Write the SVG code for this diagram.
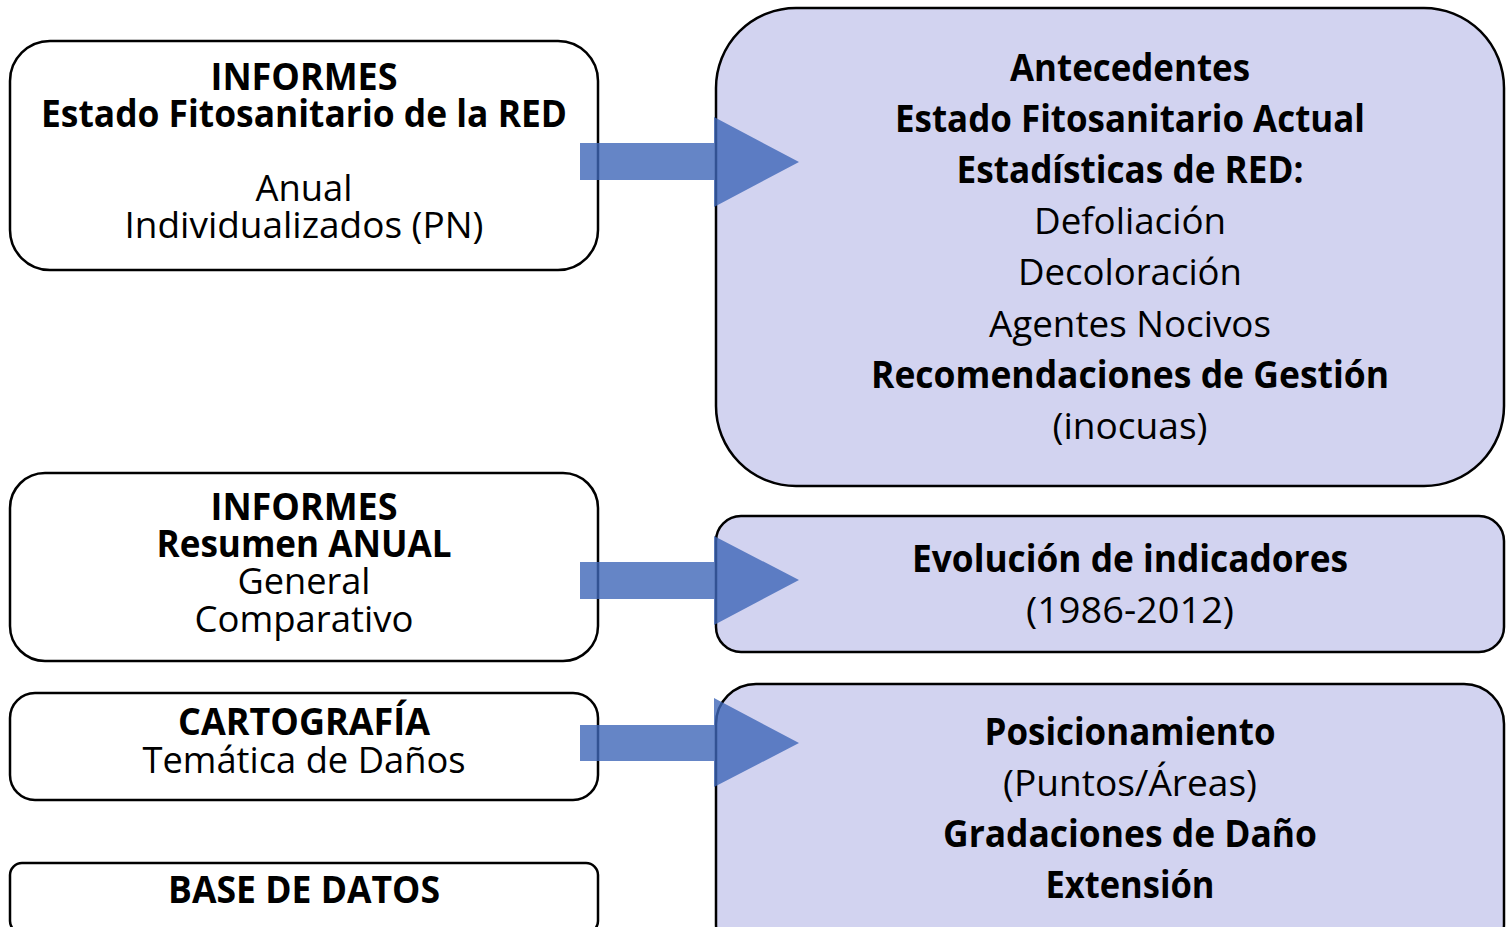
<svg xmlns="http://www.w3.org/2000/svg" width="1506" height="927" viewBox="0 0 1506 927">
<style>
.box{fill:#ffffff;stroke:#000000;stroke-width:2.5}
.pbox{fill:#D2D3F0;stroke:#000000;stroke-width:2.5}
text{font-family:"Open Sans","Noto Sans","Liberation Sans",sans-serif;font-size:37px;fill:#000000;text-anchor:middle}
.b{font-weight:bold}
.arr{fill:#3F66B8;fill-opacity:0.8}
</style>
<rect width="1506" height="927" fill="#ffffff"/>
<g id="informes-estado">
<rect class="box" x="10" y="41" width="588" height="229" rx="40"/>
<text class="b" x="304" y="90" textLength="187" lengthAdjust="spacingAndGlyphs">INFORMES</text>
<text class="b" x="304" y="127" textLength="526" lengthAdjust="spacingAndGlyphs">Estado Fitosanitario de la RED</text>
<text x="304" y="201" textLength="97" lengthAdjust="spacingAndGlyphs">Anual</text>
<text x="304" y="238" textLength="359" lengthAdjust="spacingAndGlyphs">Individualizados (PN)</text>
</g>
<g id="antecedentes">
<rect class="pbox" x="716" y="8" width="788" height="478" rx="80"/>
<text class="b" x="1130" y="81" textLength="240" lengthAdjust="spacingAndGlyphs">Antecedentes</text>
<text class="b" x="1130" y="132" textLength="470" lengthAdjust="spacingAndGlyphs">Estado Fitosanitario Actual</text>
<text class="b" x="1130" y="183" textLength="347" lengthAdjust="spacingAndGlyphs">Estadísticas de RED:</text>
<text x="1130" y="234" textLength="192" lengthAdjust="spacingAndGlyphs">Defoliación</text>
<text x="1130" y="285" textLength="224" lengthAdjust="spacingAndGlyphs">Decoloración</text>
<text x="1130" y="337" textLength="282" lengthAdjust="spacingAndGlyphs">Agentes Nocivos</text>
<text class="b" x="1130" y="388" textLength="518" lengthAdjust="spacingAndGlyphs">Recomendaciones de Gestión</text>
<text x="1130" y="439" textLength="155" lengthAdjust="spacingAndGlyphs">(inocuas)</text>
</g>
<g id="informes-resumen">
<rect class="box" x="10" y="473" width="588" height="188" rx="35"/>
<text class="b" x="304" y="520" textLength="187" lengthAdjust="spacingAndGlyphs">INFORMES</text>
<text class="b" x="304" y="557" textLength="295" lengthAdjust="spacingAndGlyphs">Resumen ANUAL</text>
<text x="304" y="594" textLength="133" lengthAdjust="spacingAndGlyphs">General</text>
<text x="304" y="632" textLength="219" lengthAdjust="spacingAndGlyphs">Comparativo</text>
</g>
<g id="evolucion">
<rect class="pbox" x="716" y="516" width="788" height="136" rx="25"/>
<text class="b" x="1130" y="572" textLength="436" lengthAdjust="spacingAndGlyphs">Evolución de indicadores</text>
<text x="1130" y="623" textLength="208" lengthAdjust="spacingAndGlyphs">(1986-2012)</text>
</g>
<g id="cartografia">
<rect class="box" x="10" y="693" width="588" height="107" rx="25"/>
<text class="b" x="304" y="735" textLength="252" lengthAdjust="spacingAndGlyphs">CARTOGRAFÍA</text>
<text x="304" y="773" textLength="323" lengthAdjust="spacingAndGlyphs">Temática de Daños</text>
</g>
<g id="posicionamiento">
<rect class="pbox" x="716" y="684" width="788" height="280" rx="40"/>
<text class="b" x="1130" y="745" textLength="291" lengthAdjust="spacingAndGlyphs">Posicionamiento</text>
<text x="1130" y="796" textLength="254" lengthAdjust="spacingAndGlyphs">(Puntos/Áreas)</text>
<text class="b" x="1130" y="847" textLength="374" lengthAdjust="spacingAndGlyphs">Gradaciones de Daño</text>
<text class="b" x="1130" y="898" textLength="169" lengthAdjust="spacingAndGlyphs">Extensión</text>
</g>
<g id="base-datos">
<rect class="box" x="10" y="863" width="588" height="70" rx="12"/>
<text class="b" x="304" y="903" textLength="272" lengthAdjust="spacingAndGlyphs">BASE DE DATOS</text>
</g>
<g id="connectors">
<path class="arr" d="M580,143 H714 V117 L799,162 L714,207 V180 H580 Z"/>
<path class="arr" d="M580,562 H714 V536 L799,580 L714,625 V599 H580 Z"/>
<path class="arr" d="M580,725 H714 V698 L799,743 L714,787 V761 H580 Z"/>
</g>
</svg>
